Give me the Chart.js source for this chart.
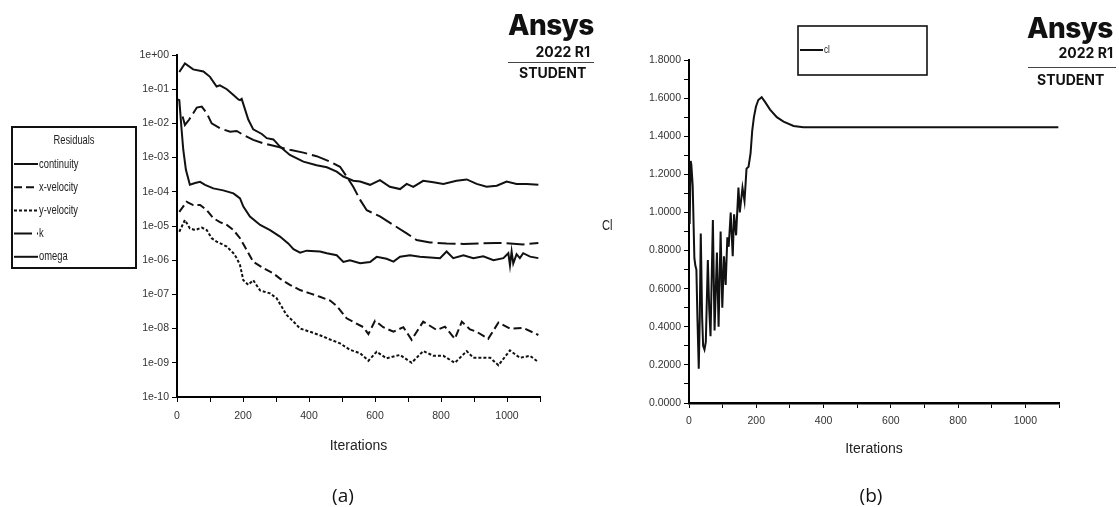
<!DOCTYPE html>
<html>
<head>
<meta charset="utf-8">
<script src="https://cdn.jsdelivr.net/npm/chart.js@4.4.0/dist/chart.umd.min.js"></script>
<style>
    html, body {margin: 0; padding: 0; background: #fff;}
    #page {position: relative; width: 1119px; height: 507px; overflow: hidden;}
    canvas {position: absolute; top: 0;}
    #chartA {left: 0;}
    #chartB {left: 580px;}
    .txt {position: absolute; color: #111; white-space: nowrap;}
    .brand {font-family: Inter, "Open Sans", sans-serif; font-weight: 800; font-size: 28px; line-height: 28px; letter-spacing: -0.6px;}
    .rel, .stud {font-family: Inter, "Open Sans", sans-serif; font-weight: 700; font-size: 14px; line-height: 14px;}
    .rule {position: absolute; height: 0; border-top: 1px solid #444;}
    .cap {font-family: "Open Sans", "Liberation Sans", sans-serif; font-size: 19px; line-height: 20px; transform: translateX(-50%);}
    .ylab {font-family: "Liberation Sans", sans-serif; font-size: 14px; line-height: 14px; color: #222; transform: scaleX(0.8); transform-origin: left;}
</style>
</head>
<body>
<div id="page">
    <canvas id="chartA" width="580" height="507"></canvas>
    <canvas id="chartB" width="539" height="507"></canvas>

    <div class="txt brand" style="left:508px; top:11px;">Ansys</div>
    <div class="txt rel" style="right:529px; top:45px;">2022 R1</div>
    <div class="rule" style="left:508px; top:62px; width:86px;"></div>
    <div class="txt stud" style="left:519px; top:66px;">STUDENT</div>

    <div class="txt brand" style="left:1027px; top:14px;">Ansys</div>
    <div class="txt rel" style="right:6px; top:46px;">2022 R1</div>
    <div class="rule" style="left:1028px; top:67px; width:88px;"></div>
    <div class="txt stud" style="left:1037px; top:73px;">STUDENT</div>

    <div class="txt ylab" style="left:602px; top:218px;">Cl</div>
    <div class="txt cap" style="left:343px; top:485px;">(a)</div>
    <div class="txt cap" style="left:871px; top:485px;">(b)</div>
</div>
<script>
    const FONT = '"Liberation Sans", Arial, sans-serif';

    // residuals (a)
    const residualTicks = [1, 1e-1, 1e-2, 1e-3, 1e-4, 1e-5, 1e-6, 1e-7, 1e-8, 1e-9, 1e-10];

    const continuityIter = [7, 24, 49, 80, 100, 120, 130, 151, 171, 186, 191, 196, 216, 231, 257, 272, 292, 312, 342, 383, 423, 454, 484, 504, 534, 555, 585, 615, 645, 676, 696, 716, 746, 777, 807, 847, 878, 908, 938, 969, 999, 1029, 1060, 1095];
    const continuity = [0.32, 0.57, 0.38, 0.33, 0.23, 0.12, 0.13, 0.10, 0.068, 0.05, 0.048, 0.052, 0.013, 0.0067, 0.0049, 0.0037, 0.0034, 0.0021, 0.0012, 7.6e-4, 6.0e-4, 5.2e-4, 3.9e-4, 2.8e-4, 2.1e-4, 2.0e-4, 1.6e-4, 2.2e-4, 1.4e-4, 1.2e-4, 1.7e-4, 1.4e-4, 2.1e-4, 1.9e-4, 1.7e-4, 2.1e-4, 2.3e-4, 1.7e-4, 1.4e-4, 1.5e-4, 2.0e-4, 1.7e-4, 1.7e-4, 1.6e-4];

    const xVelIter = [7, 29, 49, 70, 90, 110, 130, 151, 171, 191, 211, 231, 262, 292, 312, 342, 373, 403, 433, 464, 484, 514, 544, 565, 580, 600, 625, 656, 686, 711, 746, 787, 812, 842, 863, 888, 908, 943, 974, 1009, 1049, 1095];
    const xVelocity = [2.6e-5, 5.1e-5, 4.1e-5, 4.1e-5, 2.9e-5, 1.7e-5, 1.3e-5, 1.07e-5, 7.6e-6, 4.4e-6, 2.0e-6, 9.0e-7, 5.8e-7, 4.1e-7, 2.9e-7, 1.9e-7, 1.34e-7, 1.07e-7, 8.5e-8, 6.6e-8, 4.6e-8, 2.0e-8, 1.4e-8, 1.1e-8, 6.9e-9, 1.7e-8, 1.1e-8, 8.1e-9, 1.1e-8, 4.7e-9, 1.6e-8, 9.1e-9, 1.14e-8, 5.0e-9, 1.6e-8, 9.5e-9, 8.1e-9, 5.0e-9, 1.5e-8, 1.0e-8, 1.05e-8, 6.5e-9];

    const yVelIter = [7, 24, 39, 55, 75, 90, 105, 120, 151, 171, 181, 191, 201, 216, 231, 252, 282, 302, 317, 332, 353, 373, 403, 433, 464, 494, 524, 555, 580, 605, 635, 676, 711, 746, 777, 807, 842, 878, 898, 949, 974, 1009, 1039, 1070, 1095];
    const yVelocity = [6.8e-6, 1.5e-5, 8.5e-6, 7.6e-6, 9.0e-6, 7.6e-6, 4.4e-6, 3.5e-6, 2.5e-6, 1.6e-6, 1.15e-6, 7.2e-7, 2.6e-7, 1.9e-7, 2.6e-7, 1.3e-7, 1.07e-7, 7.7e-8, 4.4e-8, 2.5e-8, 1.6e-8, 1.0e-8, 8.1e-9, 6.4e-9, 4.8e-9, 3.7e-9, 2.4e-9, 1.9e-9, 1.15e-9, 2.1e-9, 1.35e-9, 1.7e-9, 1.0e-9, 2.2e-9, 1.6e-9, 1.6e-9, 1.0e-9, 2.2e-9, 1.4e-9, 1.4e-9, 8.5e-10, 2.3e-9, 1.4e-9, 1.6e-9, 1.05e-9];

    const kIter = [17, 24, 37, 60, 75, 90, 105, 130, 161, 181, 201, 231, 262, 302, 342, 383, 423, 464, 494, 514, 534, 555, 575, 615, 656, 696, 726, 767, 817, 868, 918, 969, 1009, 1049, 1095];
    const kValues = [0.016, 0.009, 0.013, 0.029, 0.031, 0.02, 0.01, 0.0072, 0.0057, 0.006, 0.0046, 0.0033, 0.0026, 0.0021, 0.0017, 0.0014, 0.0011, 7.6e-4, 5.4e-4, 2.8e-4, 1.4e-4, 5.8e-5, 2.9e-5, 1.9e-5, 1.07e-5, 6.1e-6, 3.9e-6, 3.3e-6, 3.1e-6, 3.0e-6, 3.1e-6, 3.2e-6, 3.1e-6, 2.9e-6, 3.2e-6];

    const omegaIter = [3, 7, 14, 19, 27, 39, 55, 70, 85, 110, 140, 171, 181, 191, 201, 221, 252, 282, 312, 337, 353, 373, 393, 433, 454, 484, 504, 524, 555, 585, 605, 635, 656, 676, 706, 736, 767, 797, 817, 837, 868, 898, 928, 959, 989, 1004, 1009, 1014, 1019, 1029, 1039, 1049, 1070, 1095];
    const omega = [0.05, 0.048, 0.0064, 0.0017, 4.4e-4, 1.6e-4, 1.8e-4, 1.95e-4, 1.6e-4, 1.26e-4, 1.1e-4, 9.0e-5, 7.6e-5, 6.4e-5, 3.7e-5, 1.9e-5, 1.07e-5, 7.6e-6, 4.9e-6, 3.1e-6, 2.1e-6, 1.66e-6, 1.9e-6, 1.8e-6, 1.6e-6, 1.4e-6, 8.9e-7, 1.0e-6, 8.1e-7, 8.9e-7, 1.25e-6, 1.1e-6, 9.1e-7, 1.27e-6, 1.4e-6, 1.27e-6, 1.2e-6, 1.15e-6, 1.8e-6, 1.15e-6, 1.4e-6, 1.15e-6, 1.3e-6, 1.0e-6, 1.15e-6, 1.6e-6, 7.0e-7, 1.8e-6, 8.0e-7, 1.5e-6, 1.15e-6, 1.6e-6, 1.27e-6, 1.15e-6];

    // lift coefficient (b)
    const clIter = [2, 5, 7, 11, 16, 19, 22, 25, 29, 32, 35, 39, 42, 46, 50, 56, 60, 64, 71, 76, 83, 88, 94, 99, 104, 109, 114, 118, 124, 130, 134, 140, 147, 151, 159, 165, 171, 177, 183, 188, 193, 199, 206, 216, 226, 241, 261, 281, 311, 340, 400, 600, 800, 1000, 1098];
    const cl = [0.94, 1.27, 1.25, 1.14, 0.76, 0.72, 0.70, 0.45, 0.18, 0.45, 0.89, 0.45, 0.30, 0.28, 0.32, 0.75, 0.50, 0.35, 0.96, 0.38, 0.79, 0.40, 0.90, 0.50, 0.77, 0.62, 0.87, 0.82, 1.00, 0.77, 0.99, 0.88, 1.13, 1.0, 1.13, 1.06, 1.23, 1.24, 1.31, 1.43, 1.50, 1.555, 1.59, 1.605, 1.58, 1.54, 1.50, 1.477, 1.454, 1.447, 1.447, 1.447, 1.447, 1.447, 1.447];

    function series(iters, vals) {
        return iters.map(function (x, i) { return {x: x, y: vals[i]}; });
    }

    function expLabel(v) {
        const e = Math.round(Math.log10(v));
        return '1e' + (e < 0 ? '-' : '+') + String(Math.abs(e)).padStart(2, '0');
    }

    // legend drawn inside a bordered box, from the datasets themselves
    const boxLegend = {
        id: 'boxLegend',
        afterDraw(chart, args, o) {
            const ctx = chart.ctx;
            ctx.save();
            ctx.strokeStyle = '#111';
            ctx.lineWidth = o.borderWidth;
            ctx.strokeRect(o.left, o.top, o.width, o.height);
            ctx.fillStyle = '#222';
            ctx.font = o.fontSize + 'px ' + FONT;
            ctx.textBaseline = 'middle';
            const sq = o.squeeze;
            if (o.title) {
                ctx.save();
                ctx.translate(o.left + o.width / 2, o.titleY);
                ctx.scale(sq, 1);
                ctx.textAlign = 'center';
                ctx.fillText(o.title, 0, 0);
                ctx.restore();
            }
            ctx.textAlign = 'left';
            chart.data.datasets.forEach(function (ds, i) {
                const y = o.firstRow + i * o.rowGap;
                ctx.beginPath();
                ctx.setLineDash(ds.borderDash || []);
                ctx.lineWidth = ds.borderWidth;
                ctx.strokeStyle = ds.borderColor;
                ctx.moveTo(o.left + 2, y);
                ctx.lineTo(o.left + 2 + o.sample, y);
                ctx.stroke();
                ctx.save();
                ctx.translate(o.left + 3 + o.sample, y);
                ctx.scale(sq, 1);
                ctx.fillText(ds.label, 0, 0);
                ctx.restore();
            });
            ctx.restore();
        }
    };

    const tickFont = {family: FONT, size: 10.5};
    const axisGrid = {display: true, drawOnChartArea: false, drawTicks: true, tickLength: 5, color: '#000', lineWidth: 1};

    new Chart(document.getElementById('chartA'), {
        type: 'line',
        data: {
            datasets: [
                {label: 'continuity', data: series(continuityIter, continuity), borderColor: '#111', borderWidth: 2, borderDash: []},
                {label: 'x-velocity', data: series(xVelIter, xVelocity), borderColor: '#111', borderWidth: 2, borderDash: [8, 4]},
                {label: 'y-velocity', data: series(yVelIter, yVelocity), borderColor: '#111', borderWidth: 2, borderDash: [3, 2]},
                {label: 'k', data: series(kIter, kValues), borderColor: '#111', borderWidth: 2, borderDash: [18, 5]},
                {label: 'omega', data: series(omegaIter, omega), borderColor: '#111', borderWidth: 2, borderDash: []}
            ]
        },
        options: {
            responsive: false,
            animation: false,
            layout: {padding: {top: 55, right: 40, left: 0, bottom: 0}},
            elements: {point: {radius: 0}, line: {tension: 0, fill: false}},
            plugins: {
                legend: {display: false},
                tooltip: {enabled: false},
                boxLegend: {left: 12, top: 127, width: 124, height: 141, borderWidth: 2, title: 'Residuals', titleY: 140, firstRow: 164, rowGap: 23.2, sample: 24, fontSize: 13, squeeze: 0.72}
            },
            scales: {
                x: {
                    type: 'linear', min: 0, max: 1100,
                    afterFit: function (s) { s.height = 110; },
                    grid: axisGrid,
                    border: {display: true, color: '#000', width: 2},
                    ticks: {stepSize: 100, autoSkip: false, maxRotation: 0, padding: 8, color: '#333', font: tickFont,
                        callback: function (v) { return v % 200 === 0 ? v : ''; }},
                    title: {display: true, text: 'Iterations', color: '#222', font: {family: FONT, size: 14}, padding: {top: 0, bottom: 52}}
                },
                y: {
                    type: 'logarithmic', min: 1e-10, max: 1,
                    afterBuildTicks: function (s) { s.ticks = residualTicks.map(function (v) { return {value: v}; }); },
                    afterFit: function (s) { s.width = 177; },
                    grid: axisGrid,
                    border: {display: true, color: '#000', width: 2},
                    ticks: {autoSkip: false, padding: 3, color: '#333', font: tickFont, callback: expLabel}
                }
            }
        },
        plugins: [boxLegend]
    });

    new Chart(document.getElementById('chartB'), {
        type: 'line',
        data: {
            datasets: [
                {label: 'cl', data: series(clIter, cl), borderColor: '#111', borderWidth: 2, borderDash: []}
            ]
        },
        options: {
            responsive: false,
            animation: false,
            layout: {padding: {top: 60, right: 60, left: 0, bottom: 0}},
            elements: {point: {radius: 0}, line: {tension: 0, fill: false}},
            plugins: {
                legend: {display: false},
                tooltip: {enabled: false},
                boxLegend: {left: 218, top: 26, width: 129, height: 49, borderWidth: 1.6, title: '', firstRow: 50, rowGap: 0, sample: 23, fontSize: 10, squeeze: 0.8}
            },
            scales: {
                x: {
                    type: 'linear', min: 0, max: 1100,
                    afterFit: function (s) { s.height = 104; },
                    grid: axisGrid,
                    border: {display: true, color: '#000', width: 2.5},
                    ticks: {stepSize: 100, autoSkip: false, maxRotation: 0, padding: 7, color: '#333', font: tickFont,
                        callback: function (v) { return v % 200 === 0 ? v : ''; }},
                    title: {display: true, text: 'Iterations', color: '#222', font: {family: FONT, size: 14}, padding: {top: 0, bottom: 49}}
                },
                y: {
                    type: 'linear', min: 0, max: 1.8,
                    afterFit: function (s) { s.width = 109; },
                    grid: axisGrid,
                    border: {display: true, color: '#000', width: 2},
                    ticks: {stepSize: 0.1, autoSkip: false, padding: 3, color: '#333', font: tickFont,
                        callback: function (v) { return Math.round(v * 10) % 2 === 0 ? v.toFixed(4) : ''; }}
                }
            }
        },
        plugins: [boxLegend]
    });
</script>
</body>
</html>
